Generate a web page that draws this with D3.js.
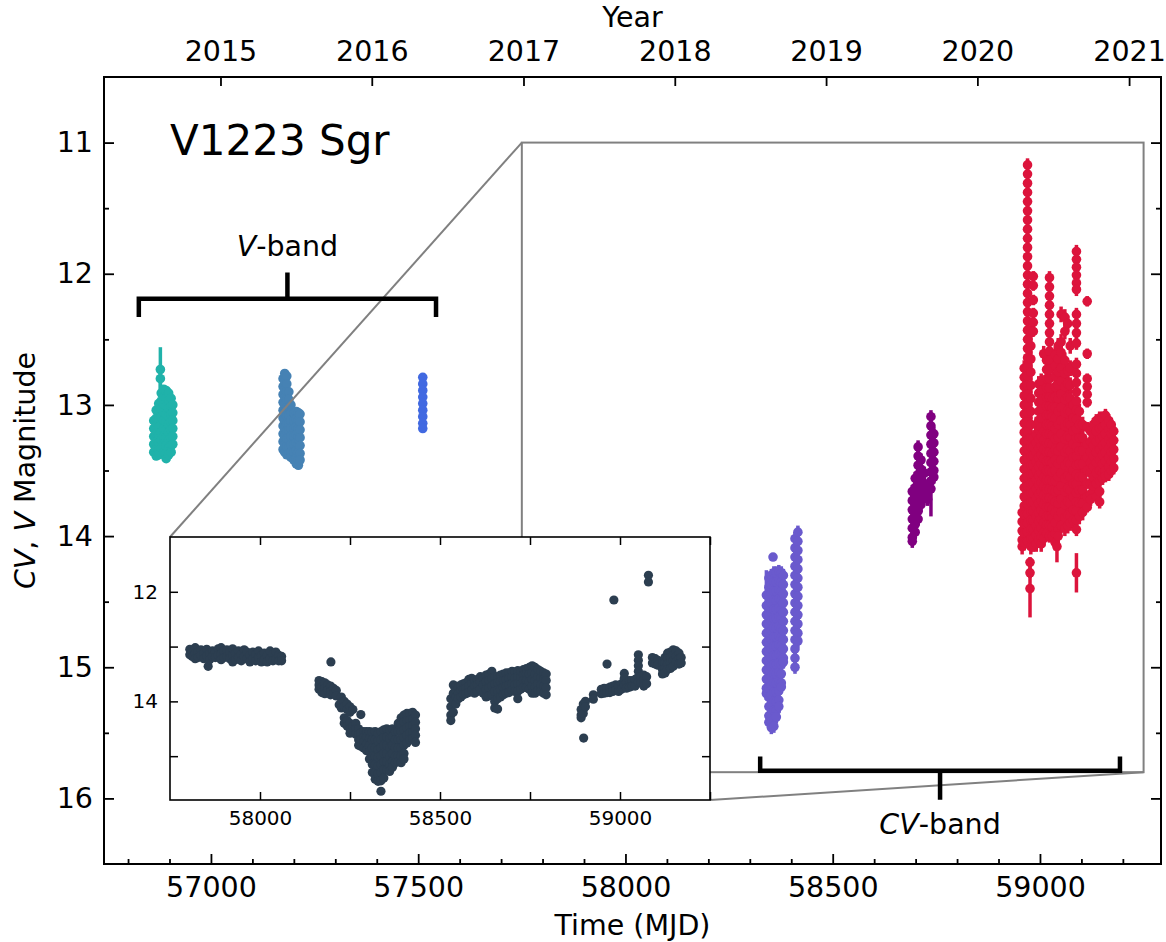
<!DOCTYPE html>
<html lang="en">
<head>
<meta charset="utf-8">
<title>V1223 Sgr light curve</title>
<script src="https://cdn.jsdelivr.net/npm/d3@7"></script>
<style>
  body { margin: 0; background: #fff; }
  svg { font-family: "DejaVu Sans", sans-serif; }
</style>
</head>
<body>
<script>

// ---------- data ----------
// each night: [MJD, error, [magnitudes]]  (a magnitude may be [mag, own error])

var vTeal = [
  [56862, 0.03, [13.12, 13.18, 13.24, 13.30, 13.36]],
  [56868, 0.03, [13.04, 13.10, 13.16, 13.22, 13.28, 13.34, 13.39]],
  [56874, 0.03, [12.99, 13.05, 13.11, 13.17, 13.23, 13.29, 13.35, 13.38]],
  [56878, 0.03, [[12.73, 0.17], [12.80, 0.08]]],
  [56880, 0.03, [12.91, 12.97, 13.03, 13.09, 13.15, 13.21, 13.27, 13.33]],
  [56886, 0.03, [12.88, 12.94, 13.00, 13.06, 13.12, 13.18, 13.24, 13.30, 13.36]],
  [56892, 0.03, [12.89, 12.95, 13.01, 13.07, 13.13, 13.19, 13.25, 13.31, 13.37, 13.41]],
  [56898, 0.03, [12.91, 12.97, 13.03, 13.09, 13.15, 13.21, 13.27, 13.33, 13.38]],
  [56904, 0.03, [12.95, 13.01, 13.07, 13.13, 13.19, 13.25, 13.31, 13.36]],
  [56908, 0.03, [13.00, 13.06, 13.12, 13.18, 13.24, 13.30]]
];

var vSteel = [
  [57174, 0.03, [12.80, 12.86, 12.92, 12.98, 13.04, 13.10, 13.16, 13.22, 13.28, 13.34]],
  [57178, 0.03, [12.76, 12.82, 12.88, 12.94, 13.00, 13.06, 13.12, 13.18, 13.24, 13.30, 13.36]],
  [57183, 0.03, [12.78, 12.84, 12.90, 12.96, 13.02, 13.08, 13.14, 13.20, 13.26, 13.32, 13.38]],
  [57188, 0.03, [12.90, 12.96, 13.02, 13.08, 13.14, 13.20, 13.26, 13.32, 13.37]],
  [57193, 0.03, [13.00, 13.06, 13.12, 13.18, 13.24, 13.30, 13.36, 13.40]],
  [57200, 0.03, [13.06, 13.12, 13.18, 13.24, 13.30, 13.36, 13.42]],
  [57206, 0.03, [13.05, 13.11, 13.17, 13.23, 13.29, 13.35, 13.41, 13.45]],
  [57211, 0.03, [13.06, 13.12, 13.18, 13.24, 13.30, 13.36, 13.42, 13.46]],
  [57215, 0.03, [13.07, 13.13, 13.19, 13.25, 13.31, 13.37, 13.42]]
];

var vRoyal = [
  [57511, 0.03, [12.79, 12.84, 12.89, 12.94, 12.99, 13.04, 13.09, 13.14, 13.18]]
];

var cvSlate = [
  [58340, 0.05, [[14.45, 0.19], 14.53, 14.60, 14.67, 14.74, 14.81, 14.88, 14.95, 15.02, 15.09, 15.16, 15.20]],
  [58346, 0.05, [14.32, 14.39, 14.46, 14.53, 14.60, 14.67, 14.74, 14.81, 14.88, 14.95, 15.02, 15.09, 15.16, 15.23, 15.30, 15.37, 15.42]],
  [58352, 0.05, [14.30, 14.37, 14.44, 14.51, 14.58, 14.65, 14.72, 14.79, 14.86, 14.93, 15.00, 15.07, 15.14, 15.21, 15.28, 15.35, 15.42, 15.46]],
  [58356, 0.03, [14.16]],
  [58358, 0.05, [14.28, 14.35, 14.42, 14.49, 14.56, 14.63, 14.70, 14.77, 14.84, 14.91, 14.98, 15.05, 15.12, 15.19, 15.26, 15.33, 15.40, 15.45]],
  [58364, 0.05, [14.28, 14.35, 14.42, 14.49, 14.56, 14.63, 14.70, 14.77, 14.84, 14.91, 14.98, 15.05, 15.12, 15.19, 15.26, 15.33, 15.38]],
  [58370, 0.05, [14.27, 14.34, 14.41, 14.48, 14.55, 14.62, 14.69, 14.76, 14.83, 14.90, 14.97, 15.04, 15.11, 15.18, 15.25, 15.30]],
  [58376, 0.05, [14.28, 14.35, 14.42, 14.49, 14.56, 14.63, 14.70, 14.77, 14.84, 14.91, 14.98, 15.05, 15.12, 15.15]],
  [58381, 0.05, [14.30, 14.37, 14.44, 14.51, 14.58, 14.65, 14.72, 14.79, 14.86, 14.93, 14.96]],
  [58409, 0.05, [14.02, 14.09, 14.16, 14.23, 14.30, 14.37, 14.44, 14.51, 14.58, 14.65, 14.72, 14.79, 14.86, 14.93, 15.00]],
  [58416, 0.05, [13.97, 14.04, 14.11, 14.18, 14.25, 14.32, 14.39, 14.46, 14.53, 14.60, 14.67, 14.74, 14.80]]
];

var cvPurple = [
  [58692, 0.05, [13.66, 13.73, 13.80, 13.87, 13.94, 14.01, 14.04]],
  [58699, 0.05, [13.56, 13.63, 13.70, 13.77, 13.84, 13.91, 13.97]],
  [58706, 0.05, [13.32, 13.39, 13.46, 13.53, 13.60, 13.67, 13.74, 13.81, 13.87]],
  [58713, 0.05, [13.42, 13.49, 13.56, 13.63, 13.70, 13.76]],
  [58721, 0.05, [13.52, 13.60, 13.68]],
  [58729, 0.05, [13.66, 13.72]],
  [58737, 0.05, [13.09, 13.16, 13.23, 13.30, 13.37, 13.44, 13.51, 13.58, [13.64, 0.21]]],
  [58744, 0.05, [13.22, 13.29, 13.36, 13.43, 13.50, 13.55]]
];

var cvCrimson = [
  [58957, 0.06, [13.82, 13.89, 13.96, 14.03, 14.08]],
  [58962, 0.06, [12.72, 12.79, 12.86, 12.93, 13.00, 13.07, 13.14, 13.21, 13.28, 13.35, 13.42, 13.49, 13.56, 13.63, 13.70, 13.77, 13.84, 13.91, 13.98, 14.05]],
  [58970, 0.05, [11.17, 11.24, 11.31, 11.38, 11.45, 11.52, 11.59, 11.66, 11.73, 11.80, 11.87, 11.94, 12.01, 12.08, 12.15, 12.22, 12.29, 12.36, 12.43, 12.50, 12.57, 12.64, 12.71, 12.78, 12.85, 12.92, 12.99, 13.06, 13.13, 13.20, 13.27, 13.34, 13.41, 13.48, 13.55, 13.62, 13.69, 13.76, 13.83, 13.90, 13.97, 14.04]],
  [58976, 0.04, [14.20, 14.28, [14.40, 0.22]]],
  [58978, 0.06, [12.45, 12.55, 12.65, 12.75, 12.85, 12.95, 13.05, 13.15, 13.25, 13.32, 13.39, 13.46, 13.53, 13.60, 13.67, 13.74, 13.81, 13.88, 13.95, 14.02, 14.08]],
  [58984, 0.04, [12.02, 12.09, 12.20, 12.30, 12.37, 12.44, 13.25, 13.32, 13.39, 13.46, 13.53, 13.60, 13.67, 13.74, 13.81, 13.88, 13.95, 14.02, 14.08]],
  [58991, 0.06, [13.15, 13.22, 13.29, 13.36, 13.43, 13.50, 13.57, 13.64, 13.71, 13.78, 13.85, 13.92, 13.99, 14.06]],
  [58997, 0.06, [12.84, 12.91, 12.98, 13.05, 13.12, 13.19, 13.26, 13.33, 13.40, 13.47, 13.54, 13.61, 13.68, 13.75, 13.82, 13.89, 13.96, 14.03]],
  [59003, 0.06, [12.82, 12.89, 12.96, 13.03, 13.10, 13.17, 13.24, 13.31, 13.38, 13.45, 13.52, 13.59, 13.66, 13.73, 13.80, 13.87, 13.94, 14.01, 14.06]],
  [59009, 0.06, [12.61, 13.20, 13.27, 13.34, 13.41, 13.48, 13.55, 13.62, 13.69, 13.76, 13.83, 13.90, 13.97, 14.02]],
  [59016, 0.06, [12.66, 12.73, 12.80, 12.87, 12.94, 13.01, 13.08, 13.15, 13.22, 13.29, 13.36, 13.43, 13.50, 13.57, 13.64, 13.71, 13.78, 13.85, 13.92, 13.98]],
  [59023, 0.05, [12.03, 12.10, 12.17, 12.24, 12.31, 12.38, 12.45, 12.52, 12.59, 12.66, 12.73, 12.80, 12.87, 12.94, 13.01, 13.08, 13.15, 13.22, 13.29, 13.36, 13.43, 13.50, 13.57, 13.64, 13.71, 13.78, 13.85, 13.92, 14.00]],
  [59030, 0.06, [12.95, 13.02, 13.09, 13.16, 13.23, 13.30, 13.37, 13.44, 13.51, 13.58, 13.65, 13.72, 13.79, 13.86, 13.93, 14.00]],
  [59037, 0.06, [12.62, 12.70, 12.78, 12.86, 12.94, 13.02, 13.10, 13.18, 13.26, 13.34, 13.42, 13.50, 13.58, 13.66, 13.74, 13.82, 13.90, 13.98, 14.05]],
  [59041, 0.04, [[14.08, 0.12]]],
  [59044, 0.06, [12.55, 12.65, 12.75, 12.85, 12.95, 13.05, 13.15, 13.25, 13.35, 13.45, 13.55, 13.65, 13.75, 13.85, 13.95, 14.00]],
  [59051, 0.06, [12.31, 12.52, 12.60, 12.72, 12.82, 12.92, 13.02, 13.12, 13.22, 13.32, 13.42, 13.52, 13.62, 13.72, 13.82, 13.92]],
  [59060, 0.06, [12.33, 12.44, 12.66, 12.76, 12.86, 12.96, 13.06, 13.16, 13.26, 13.36, 13.46, 13.56, 13.66, 13.76, 13.86, 13.94]],
  [59067, 0.06, [12.38, 12.74, 12.84, 12.94, 13.04, 13.14, 13.24, 13.34, 13.44, 13.54, 13.64, 13.74, 13.84, 13.92]],
  [59073, 0.06, [12.55, 12.72, 12.85, 12.95, 13.05, 13.15, 13.25, 13.35, 13.45, 13.55, 13.65, 13.75, 13.85, 13.90]],
  [59080, 0.06, [13.00, 13.10, 13.20, 13.30, 13.40, 13.50, 13.60, 13.70, 13.80, 13.88]],
  [59088, 0.05, [11.83, 11.89, 11.95, 12.01, 12.07, 12.12, 12.31, 12.38, 12.45, 12.53, 12.69, 12.76, 12.83, 12.90, 12.97, 13.04, 13.11, 13.18, 13.25, 13.32, 13.39, 13.46, 13.53, 13.60, 13.67, 13.74, 13.81, 13.88, 13.95, [14.28, 0.15]]],
  [59095, 0.06, [13.05, 13.15, 13.25, 13.35, 13.45, 13.55, 13.65, 13.75, 13.85]],
  [59103, 0.06, [13.15, 13.25, 13.35, 13.45, 13.55, 13.65, 13.75, 13.82]],
  [59114, 0.04, [12.21, 12.61, 12.80, 12.86, 12.92, 12.98, 13.17, 13.30, 13.40, 13.50, 13.60, 13.70, 13.78]],
  [59122, 0.05, [13.20, 13.28, 13.36, 13.44, 13.52, 13.60, 13.68, 13.72]],
  [59129, 0.05, [13.15, 13.23, 13.31, 13.39, 13.47, 13.55, 13.62]],
  [59136, 0.05, [13.12, 13.20, 13.28, 13.36, 13.44, 13.52, 13.60, 13.70]],
  [59144, 0.05, [13.10, 13.18, 13.26, 13.34, 13.42, 13.50, 13.58, 13.66, 13.74]],
  [59151, 0.05, [13.10, 13.17, 13.24, 13.31, 13.38, 13.45, 13.52, 13.56]],
  [59158, 0.05, [13.08, 13.15, 13.22, 13.29, 13.36, 13.43, 13.50, 13.54]],
  [59166, 0.05, [13.12, 13.19, 13.26, 13.33, 13.40, 13.47, 13.53]],
  [59172, 0.05, [13.15, 13.22, 13.29, 13.36, 13.43, 13.50]],
  [59178, 0.05, [13.20, 13.27, 13.34, 13.41, 13.48]]
];

// inset light curve: [MJD, [magnitudes]]
var insetNights = [
  [57805, [13.05, 13.15]], [57812, [13.08, 13.18]], [57820, [13.02, 13.12, 13.22]],
  [57828, [13.10, 13.20]], [57836, [13.06, 13.16]], [57844, [13.12, 13.22]],
  [57852, [13.05, 13.17]], [57856, [13.36]], [57860, [13.12, 13.24]],
  [57868, [13.08, 13.18]], [57876, [13.10, 13.20]], [57884, [13.04, 13.16]],
  [57892, [13.02, 13.14, 13.24]], [57900, [13.08, 13.20]], [57908, [13.06, 13.18]],
  [57916, [13.10, 13.22]], [57924, [13.04, 13.16, 13.28]], [57932, [13.12, 13.24]],
  [57940, [13.08, 13.20]], [57948, [13.14, 13.26]], [57956, [13.06, 13.18]],
  [57964, [13.10, 13.22]], [57972, [13.16, 13.28]], [57980, [13.10, 13.22]],
  [57988, [13.14, 13.26]], [57996, [13.08, 13.20]], [58004, [13.16, 13.28]],
  [58012, [13.12, 13.24]], [58020, [13.16, 13.28]], [58028, [13.08, 13.22]],
  [58036, [13.14, 13.26]], [58044, [13.10, 13.24]], [58052, [13.16, 13.26]],
  [58060, [13.18, 13.26]],
  [58164, [13.62, 13.70, 13.78]], [58172, [13.64, 13.74, 13.84]], [58180, [13.66, 13.76, 13.86]],
  [58188, [13.70, 13.80]], [58196, [13.72, 13.82, 13.88]], [58197, [13.28]],
  [58204, [13.76, 13.86]], [58212, [13.80, 13.90]], [58220, [14.06]],
  [58226, [13.92, 14.02, 14.12]], [58234, [14.00, 14.10, 14.30, 14.40]],
  [58242, [14.05, 14.15, 14.35, 14.45]], [58250, [14.10, 14.20, 14.40, 14.50, 14.58]],
  [58258, [14.15, 14.45, 14.55]], [58266, [14.40, 14.50, 14.60]],
  [58274, [14.50, 14.60, 14.70, 14.80]], [58280, [14.24, 14.58, 14.70, 14.82]],
  [58288, [14.55, 14.65, 14.75, 14.85]], [58296, [14.55, 14.65, 14.78, 14.90]],
  [58304, [14.55, 14.68, 14.80, 14.92, 15.05]], [58312, [14.56, 14.70, 14.85, 15.00, 15.15, 15.30]],
  [58320, [14.55, 14.70, 14.85, 15.00, 15.15, 15.30, 15.42]],
  [58328, [14.58, 14.72, 14.88, 15.02, 15.18, 15.32, 15.46]],
  [58336, [14.55, 14.70, 14.85, 15.00, 15.15, 15.30, 15.45, 15.64]],
  [58344, [14.52, 14.66, 14.80, 14.95, 15.10, 15.25, 15.40]],
  [58352, [14.50, 14.65, 14.80, 14.95, 15.10, 15.25]],
  [58360, [14.52, 14.68, 14.84, 15.00, 15.15, 15.28]],
  [58368, [14.50, 14.64, 14.80, 14.95, 15.10, 15.20]],
  [58376, [14.55, 14.70, 14.85, 15.00, 15.12]],
  [58384, [14.40, 14.55, 14.70, 14.85, 15.00, 15.10]],
  [58392, [14.30, 14.42, 14.55, 14.70, 14.85, 15.00, 15.12]],
  [58400, [14.25, 14.38, 14.52, 14.66, 14.80, 14.95, 15.05]],
  [58408, [14.22, 14.35, 14.48, 14.62, 14.76]], [58416, [14.22, 14.34, 14.46, 14.58, 14.70]],
  [58424, [14.20, 14.32, 14.44, 14.56, 14.68]], [58432, [14.25, 14.38, 14.50, 14.62, 14.75]],
  [58530, [13.95, 14.10, 14.25, 14.35]], [58537, [13.70, 13.85, 14.00, 14.20]],
  [58544, [13.72, 13.80, 13.92, 14.05]], [58551, [13.75, 13.85, 13.95]],
  [58558, [13.70, 13.80, 13.92]], [58565, [13.68, 13.78, 13.88]],
  [58572, [13.66, 13.76, 13.86]], [58580, [13.60, 13.72, 13.84]],
  [58588, [13.58, 13.68, 13.80]], [58596, [13.62, 13.72, 13.85]],
  [58604, [13.60, 13.70, 13.82]], [58612, [13.55, 13.65, 13.78]],
  [58620, [13.58, 13.70, 13.85]], [58628, [13.52, 13.64, 13.78, 13.92]],
  [58636, [13.50, 13.62, 13.75, 13.90]], [58644, [13.45, 13.58, 13.72, 13.88]],
  [58652, [13.55, 13.68, 13.82, 14.00, 14.12]], [58660, [13.55, 13.66, 13.80, 13.95, 14.14]],
  [58668, [13.52, 13.64, 13.78, 13.92]], [58676, [13.50, 13.62, 13.75, 13.88]],
  [58684, [13.48, 13.60, 13.72, 13.85]], [58692, [13.48, 13.58, 13.70, 13.84]],
  [58700, [13.45, 13.56, 13.68, 13.80]], [58708, [13.46, 13.58, 13.70, 13.82]],
  [58716, [13.44, 13.55, 13.68, 13.82, 13.95]], [58724, [13.46, 13.56, 13.68, 13.78]],
  [58732, [13.42, 13.52, 13.62, 13.74]], [58740, [13.40, 13.50, 13.62, 13.75]],
  [58748, [13.38, 13.50, 13.64, 13.78]], [58756, [13.35, 13.48, 13.60, 13.72, 13.85]],
  [58764, [13.38, 13.50, 13.62, 13.74, 13.85]], [58772, [13.42, 13.55, 13.68, 13.80]],
  [58780, [13.45, 13.58, 13.70, 13.82]], [58788, [13.48, 13.60, 13.72, 13.85]],
  [58795, [13.50, 13.62, 13.75, 13.88]],
  [58892, [14.15, 14.25, 14.30]], [58898, [14.05, 14.15, 14.22]], [58899, [14.67]],
  [58904, [14.00, 14.10]], [58926, [13.88, 13.96]],
  [58948, [13.78, 13.86]], [58956, [13.76, 13.85]], [58964, [13.32, 13.76, 13.84]],
  [58972, [13.74, 13.84]], [58980, [13.72, 13.82]], [58983, [12.15]],
  [58988, [13.70, 13.80]], [58996, [13.72, 13.82]], [59004, [13.68, 13.78]],
  [59012, [13.49, 13.58, 13.70]], [59018, [13.66, 13.76]], [59026, [13.62, 13.74]],
  [59034, [13.62, 13.72]], [59042, [13.60, 13.72]],
  [59051, [13.15, 13.25, 13.35, 13.45, 13.55, 13.65]], [59058, [13.55, 13.66]],
  [59066, [13.52, 13.62, 13.72]], [59074, [13.55, 13.68]], [59079, [11.70, 11.82]],
  [59090, [13.20, 13.30]], [59098, [13.22, 13.32]], [59105, [13.25, 13.34]],
  [59118, [13.30, 13.42, 13.50]], [59125, [13.20, 13.30, 13.40, 13.48]],
  [59132, [13.12, 13.22, 13.32, 13.42]], [59140, [13.10, 13.20, 13.30, 13.40]],
  [59148, [13.06, 13.16, 13.26, 13.36]], [59156, [13.08, 13.18, 13.28]],
  [59164, [13.12, 13.22, 13.32]], [59170, [13.20, 13.30]]
];

// ticks and labels
var magTicks = [11, 12, 13, 14, 15, 16];
var magMinor = [11.5, 12.5, 13.5, 14.5, 15.5];
var mjdTicks = [57000, 57500, 58000, 58500, 59000];
var mjdMinor = [56800, 56900, 57100, 57200, 57300, 57400, 57600, 57700, 57800, 57900,
                58100, 58200, 58300, 58400, 58600, 58700, 58800, 58900, 59100, 59200];
var yearMJD = [57023, 57388, 57754, 58119, 58484, 58849, 59215];
var yearLabels = ["2015", "2016", "2017", "2018", "2019", "2020", "2021"];
var insetMjdTicks = [58000, 58250, 58500, 58750, 59000, 59250];
var insetMagTicks = [12, 13, 14, 15];

// ---------- layout ----------
var width = 1166, height = 942;
var plot = {left: 104, right: 1161, top: 77, bottom: 864};
var ins = {left: 170, right: 710, top: 537, bottom: 800};
var fs = 28.5;

var svg = d3.select("body").append("svg")
  .attr("width", width).attr("height", height);

var x = d3.scaleLinear().domain([56742, 59292]).range([plot.left, plot.right]);
var y = d3.scaleLinear().domain([10.5, 16.5]).range([plot.top, plot.bottom]);

var xi = d3.scaleLinear().domain([57750, 59250]).range([ins.left, ins.right]);
var yi = d3.scaleLinear().domain([11, 15.8]).range([ins.top, ins.bottom]);

function flatten(nights) {
  var pts = [];
  nights.forEach(function(n) {
    n[2].forEach(function(v) {
      if (Array.isArray(v)) pts.push({t: n[0], v: v[0], e: v[1]});
      else pts.push({t: n[0], v: v, e: n[1]});
    });
  });
  return pts;
}

function drawSeries(nights, color) {
  var pts = flatten(nights);
  var g = svg.append("g");
  g.selectAll("line").data(pts).enter().append("line")
    .attr("x1", function(d) { return x(d.t); })
    .attr("x2", function(d) { return x(d.t); })
    .attr("y1", function(d) { return y(d.v - d.e); })
    .attr("y2", function(d) { return y(d.v + d.e); })
    .attr("stroke", color).attr("stroke-width", 3.5);
  g.selectAll("circle").data(pts).enter().append("circle")
    .attr("cx", function(d) { return x(d.t); })
    .attr("cy", function(d) { return y(d.v); })
    .attr("r", 4.8)
    .attr("fill", color);
}

drawSeries(vTeal, "#20b2aa");
drawSeries(vSteel, "#4682b4");
drawSeries(vRoyal, "#4169e1");
drawSeries(cvSlate, "#6a5acd");
drawSeries(cvPurple, "#800080");
drawSeries(cvCrimson, "#dc143c");

// ---------- axes (ticks pointing inward) ----------
function styleAxis(g, size) {
  g.select(".domain").remove();
  g.selectAll(".tick line").attr("stroke", "#000").attr("stroke-width", 1.8);
  g.selectAll(".tick text").attr("fill", "#000").attr("font-size", size)
    .attr("font-family", "DejaVu Sans");
}

svg.append("g").attr("transform", "translate(0," + plot.bottom + ")")
  .call(d3.axisBottom(x).tickValues(mjdTicks).tickFormat(d3.format("d"))
    .tickSize(-10).tickPadding(13))
  .call(styleAxis, fs);
svg.append("g").attr("transform", "translate(0," + plot.bottom + ")")
  .call(d3.axisBottom(x).tickValues(mjdMinor).tickFormat("").tickSize(-5))
  .call(styleAxis, fs);

svg.append("g").attr("transform", "translate(" + plot.left + ",0)")
  .call(d3.axisLeft(y).tickValues(magTicks).tickFormat(d3.format("d"))
    .tickSize(-10).tickPadding(11))
  .call(styleAxis, fs);
svg.append("g").attr("transform", "translate(" + plot.left + ",0)")
  .call(d3.axisLeft(y).tickValues(magMinor).tickFormat("").tickSize(-5))
  .call(styleAxis, fs);

svg.append("g").attr("transform", "translate(" + plot.right + ",0)")
  .call(d3.axisRight(y).tickValues(magTicks).tickFormat("").tickSize(-10))
  .call(styleAxis, fs);
svg.append("g").attr("transform", "translate(" + plot.right + ",0)")
  .call(d3.axisRight(y).tickValues(magMinor).tickFormat("").tickSize(-5))
  .call(styleAxis, fs);

svg.append("g").attr("transform", "translate(0," + plot.top + ")")
  .call(d3.axisTop(x).tickValues(yearMJD).tickFormat(function(d, i) { return yearLabels[i]; })
    .tickSize(-9).tickPadding(16))
  .call(styleAxis, fs);

svg.append("rect")
  .attr("x", plot.left).attr("y", plot.top)
  .attr("width", plot.right - plot.left).attr("height", plot.bottom - plot.top)
  .attr("fill", "none").attr("stroke", "#000").attr("stroke-width", 2);

// ---------- labels ----------
svg.append("text").attr("x", (plot.left + plot.right) / 2).attr("y", 27)
  .attr("text-anchor", "middle").attr("font-size", fs).text("Year");

svg.append("text").attr("x", (plot.left + plot.right) / 2).attr("y", 935)
  .attr("text-anchor", "middle").attr("font-size", fs).text("Time (MJD)");

var ylab = svg.append("text")
  .attr("transform", "translate(35," + ((plot.top + plot.bottom) / 2) + ") rotate(-90)")
  .attr("text-anchor", "middle").attr("font-size", fs);
ylab.append("tspan").attr("font-style", "italic").text("CV");
ylab.append("tspan").text(", ");
ylab.append("tspan").attr("font-style", "italic").text("V");
ylab.append("tspan").text(" Magnitude");

svg.append("text").attr("x", 170).attr("y", 155)
  .attr("font-size", 42).text("V1223 Sgr");

// ---------- zoom box and connectors ----------
var gray = "#808080";
svg.append("rect")
  .attr("x", x(57750)).attr("y", y(11))
  .attr("width", x(59250) - x(57750)).attr("height", y(15.8) - y(11))
  .attr("fill", "none").attr("stroke", gray).attr("stroke-width", 2);
svg.append("line")
  .attr("x1", x(57750)).attr("y1", y(11)).attr("x2", ins.left).attr("y2", ins.top)
  .attr("stroke", gray).attr("stroke-width", 2);
svg.append("line")
  .attr("x1", x(59250)).attr("y1", y(15.8)).attr("x2", ins.right).attr("y2", ins.bottom)
  .attr("stroke", gray).attr("stroke-width", 2);

// ---------- brackets ----------
function bracket(x0, x1, yBar, yEnd, yMid) {
  var p = d3.path();
  p.moveTo(x(x0), y(yEnd)); p.lineTo(x(x0), y(yBar));
  p.lineTo(x(x1), y(yBar)); p.lineTo(x(x1), y(yEnd));
  p.moveTo(x((x0 + x1) / 2), y(yBar)); p.lineTo(x((x0 + x1) / 2), y(yMid));
  svg.append("path").attr("d", p.toString())
    .attr("fill", "none").attr("stroke", "#000").attr("stroke-width", 4.5);
}
bracket(56826, 57543, 12.19, 12.33, 11.99);
bracket(58325, 59193, 15.79, 15.68, 16.01);

var vl = svg.append("text").attr("x", x((56826 + 57543) / 2)).attr("y", 256)
  .attr("text-anchor", "middle").attr("font-size", fs);
vl.append("tspan").attr("font-style", "italic").text("V");
vl.append("tspan").text("-band");

var cl = svg.append("text").attr("x", x((58325 + 59193) / 2)).attr("y", 834)
  .attr("text-anchor", "middle").attr("font-size", fs);
cl.append("tspan").attr("font-style", "italic").text("CV");
cl.append("tspan").text("-band");

// ---------- inset ----------
var gi = svg.append("g");
gi.append("rect")
  .attr("x", ins.left).attr("y", ins.top)
  .attr("width", ins.right - ins.left).attr("height", ins.bottom - ins.top)
  .attr("fill", "#fff");

var insetPts = [];
insetNights.forEach(function(n) {
  n[1].forEach(function(v) { insetPts.push({t: n[0], v: v}); });
});
gi.selectAll("circle").data(insetPts).enter().append("circle")
  .attr("cx", function(d) { return xi(d.t); })
  .attr("cy", function(d) { return yi(d.v); })
  .attr("r", 4.6)
  .attr("fill", "#2c3e50");

var fsi = 20;
gi.append("g").attr("transform", "translate(0," + ins.bottom + ")")
  .call(d3.axisBottom(xi).tickValues(insetMjdTicks)
    .tickFormat(function(d) { return d % 500 === 0 ? d : ""; })
    .tickSize(-8).tickPadding(11))
  .call(styleAxis, fsi);
gi.append("g").attr("transform", "translate(0," + ins.top + ")")
  .call(d3.axisTop(xi).tickValues(insetMjdTicks).tickFormat("").tickSize(-8))
  .call(styleAxis, fsi);
gi.append("g").attr("transform", "translate(" + ins.left + ",0)")
  .call(d3.axisLeft(yi).tickValues(insetMagTicks)
    .tickFormat(function(d) { return d % 2 === 0 ? d : ""; })
    .tickSize(-8).tickPadding(12))
  .call(styleAxis, fsi);
gi.append("g").attr("transform", "translate(" + ins.right + ",0)")
  .call(d3.axisRight(yi).tickValues(insetMagTicks).tickFormat("").tickSize(-8))
  .call(styleAxis, fsi);
gi.selectAll(".tick line").attr("stroke-width", 1.5);

gi.append("rect")
  .attr("x", ins.left).attr("y", ins.top)
  .attr("width", ins.right - ins.left).attr("height", ins.bottom - ins.top)
  .attr("fill", "none").attr("stroke", "#000").attr("stroke-width", 1.6);

</script>
</body>
</html>
